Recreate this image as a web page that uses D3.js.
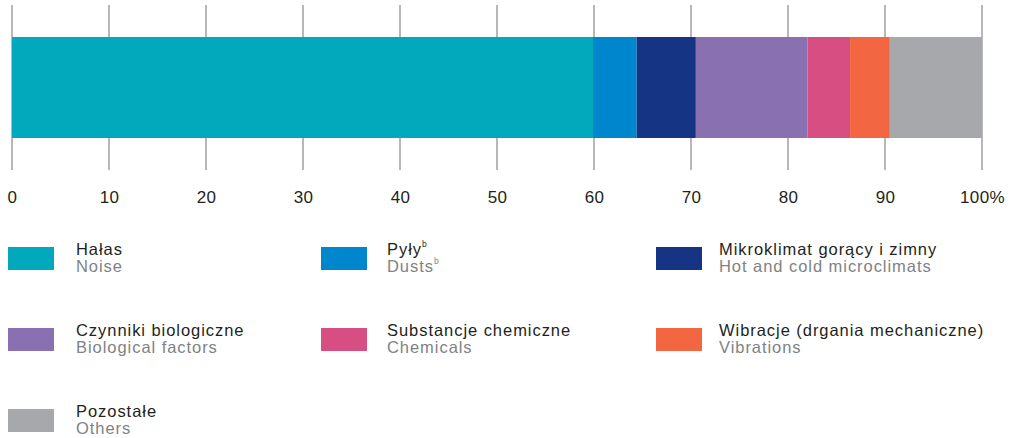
<!DOCTYPE html>
<html><head><meta charset="utf-8">
<script src="https://cdn.jsdelivr.net/npm/d3@7"></script>
<style>body{margin:0;background:#fff}svg{display:block;font-family:"Liberation Sans",Arial,sans-serif}</style>
</head><body><svg id="c" width="1012" height="438"></svg>
<script>
const categoriesPL = ["Hałas","Pyły","Mikroklimat gorący i zimny","Czynniki biologiczne","Substancje chemiczne","Wibracje (drgania mechaniczne)","Pozostałe"];
const categoriesEN = ["Noise","Dusts","Hot and cold microclimats","Biological factors","Chemicals","Vibrations","Others"];
const footnotes = ["","b","","","","",""];
const values = [59.9,4.5,6.1,11.5,4.4,4.1,9.5];
const colors = ["#02a8bc","#0086cd","#153483","#8971b1","#d74e82","#f26641","#a7a8ab"];
const tickValues = [0,10,20,30,40,50,60,70,80,90,100];
const tickLabels = ["0","10","20","30","40","50","60","70","80","90","100%"];

const svg = d3.select("#c");
const x = d3.scaleLinear().domain([0,100]).range([12,982]);

// gridlines
svg.append("g").selectAll("line").data(tickValues).join("line")
  .attr("x1",d=>x(d)).attr("x2",d=>x(d)).attr("y1",5).attr("y2",170)
  .attr("stroke","#9a9a9a").attr("stroke-width",1.4);

// stacked bar
let cum = 0;
const segs = values.map((v,i)=>{const s={start:cum,end:cum+v,i}; cum+=v; return s;});
svg.append("g").selectAll("rect").data(segs).join("rect")
  .attr("x",d=>x(d.start)).attr("width",d=>x(d.end)-x(d.start))
  .attr("y",37).attr("height",101).attr("fill",d=>colors[d.i]);

// axis labels
const axis = d3.axisBottom(x).tickValues(tickValues).tickSize(0).tickFormat((d,i)=>tickLabels[i]);
const ax = svg.append("g").attr("transform","translate(0,188)").call(axis);
ax.attr("font-family",null).attr("font-size",null);
ax.select(".domain").remove();
ax.selectAll("text").attr("font-size",17).attr("fill","#231f20").attr("letter-spacing",0.4).attr("dy","0.71em");

// legend
const colX = [8,321,656];
const txtX = [76,387,719];
const rowY = [247,328,409];
const leg = svg.append("g").selectAll("g").data(categoriesPL).join("g")
  .attr("transform",(d,i)=>`translate(${colX[i%3]},${rowY[Math.floor(i/3)]})`);
leg.append("rect").attr("width",46).attr("height",23).attr("fill",(d,i)=>colors[i]);
const t1 = leg.append("text").attr("x",(d,i)=>txtX[i%3]-colX[i%3]).attr("y",7.5)
  .attr("font-size",16.5).attr("letter-spacing",0.95).attr("fill","#231f20");
t1.append("tspan").text(d=>d);
t1.append("tspan").attr("font-size",8.5).attr("letter-spacing",0).attr("dy",-8).attr("dx",0).text((d,i)=>footnotes[i]);
const t2 = leg.append("text").attr("x",(d,i)=>txtX[i%3]-colX[i%3]).attr("y",25)
  .attr("font-size",16.5).attr("letter-spacing",0.95).attr("fill","#808285");
t2.append("tspan").text((d,i)=>categoriesEN[i]);
t2.append("tspan").attr("font-size",8.5).attr("letter-spacing",0).attr("dy",-8).attr("dx",0).text((d,i)=>footnotes[i]);
</script></body></html>
